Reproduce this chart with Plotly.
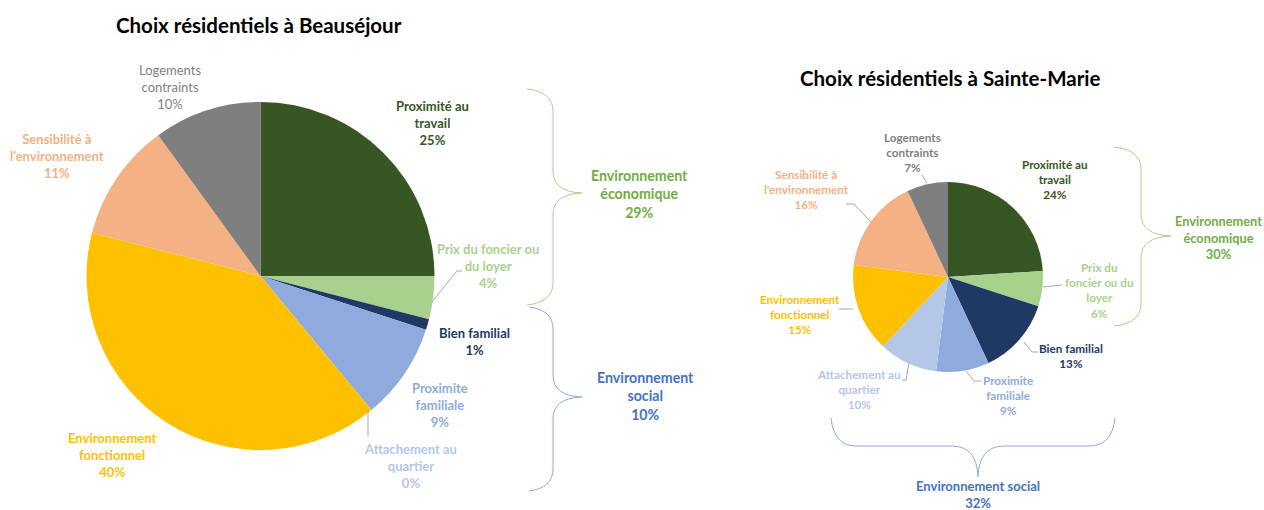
import plotly.graph_objects as go

# ---------------- data ----------------
categories = ["Proximité au travail", "Prix du foncier ou du loyer", "Bien familial",
              "Proximite familiale", "Attachement au quartier", "Environnement fonctionnel",
              "Sensibilité à l'environnement", "Logements contraints"]
beausejour_values = [25, 4, 1, 9, 0, 40, 11, 10]
sainte_marie_values = [24, 6, 13, 9, 10, 15, 16, 7]
slice_colors = ["#375623", "#A9D18E", "#1F3864", "#8FAADC", "#B4C7E7", "#FFC000", "#F4B183", "#7F7F7F"]
label_colors = ["#375623", "#A9D18E", "#1F3864", "#8FAADC", "#B4C7E7", "#FFC000", "#F4B183", "#7F7F7F"]

# wrapped label text for each chart
left_label_lines = [["Proximité au", "travail"], ["Prix du foncier ou", "du loyer"], ["Bien familial"],
                    ["Proximite", "familiale"], ["Attachement au", "quartier"], ["Environnement", "fonctionnel"],
                    ["Sensibilité à", "l'environnement"], ["Logements", "contraints"]]
right_label_lines = [["Proximité au", "travail"], ["Prix du", "foncier ou du", "loyer"], ["Bien familial"],
                     ["Proximite", "familiale"], ["Attachement au", "quartier"], ["Environnement", "fonctionnel"],
                     ["Sensibilité à", "l'environnement"], ["Logements", "contraints"]]

titles = ["Choix résidentiels à Beauséjour", "Choix résidentiels à Sainte-Marie"]
group_names_left = ["Environnement<br>économique", "Environnement<br>social"]
group_values_left = [29, 10]
group_names_right = ["Environnement<br>économique", "Environnement social"]
group_values_right = [30, 32]
group_colors = ["#70AD47", "#4472C4"]

# ---------------- layout helpers ----------------
W, H = 1264, 510
FONT = "Lato, 'DejaVu Sans', sans-serif"


def px(x):
    return x / W


def py(y):
    return 1 - y / H


def pie_domain(cx, cy, r):
    return dict(x=[px(cx - r), px(cx + r)], y=[py(cy + r), py(cy - r)])


fig = go.Figure()

fig.add_trace(go.Pie(labels=categories, values=beausejour_values, sort=False,
                     direction="clockwise", rotation=0, textinfo="none", hoverinfo="label+percent",
                     marker=dict(colors=slice_colors, line=dict(width=0)),
                     domain=pie_domain(260.5, 276, 174), showlegend=False))
fig.add_trace(go.Pie(labels=categories, values=sainte_marie_values, sort=False,
                     direction="clockwise", rotation=0, textinfo="none", hoverinfo="label+percent",
                     marker=dict(colors=slice_colors, line=dict(width=0)),
                     domain=pie_domain(948, 277, 95), showlegend=False))

annotations = []


def add_text(x, y, text, color, size, bold=True):
    t = "<b>%s</b>" % text if bold else text
    annotations.append(dict(x=px(x), y=py(y), xref="paper", yref="paper", text=t, showarrow=False,
                            xanchor="center", yanchor="middle", align="center",
                            font=dict(family=FONT, size=size, color=color)))


# titles
add_text(259, 25, titles[0], "#000000", 20.5)
add_text(950, 78, titles[1], "#000000", 20.5)

# left pie label positions (centre x, centre y of block) - styling only
left_pos = [(432, 123), (488, 266), (474.5, 341.5), (439.5, 405), (410.6, 466), (111.7, 455), (56.6, 156), (170, 87)]
left_bold = [True, True, True, True, True, True, True, False]
for i, cat in enumerate(categories):
    txt = "<br>".join(left_label_lines[i] + ["%d%%" % beausejour_values[i]])
    add_text(left_pos[i][0], left_pos[i][1], txt, label_colors[i], 13, left_bold[i])

right_pos = [(1055, 179), (1099.6, 289.5), (1071, 355.5), (1008, 395), (858.6, 389), (799.6, 313.5), (806.7, 188.5), (912, 152)]
for i, cat in enumerate(categories):
    txt = "<br>".join(right_label_lines[i] + ["%d%%" % sainte_marie_values[i]])
    add_text(right_pos[i][0], right_pos[i][1], txt, label_colors[i], 11.7, True)

# group labels
add_text(639, 194, "%s<br>%d%%" % (group_names_left[0], group_values_left[0]), group_colors[0], 14.2)
add_text(646, 396, "%s<br>%d%%" % (group_names_left[1], group_values_left[1]), group_colors[1], 14.2)
add_text(1218, 237, "%s<br>%d%%" % (group_names_right[0], group_values_right[0]), group_colors[0], 12.8)
add_text(978, 494.5, "%s<br>%d%%" % (group_names_right[1], group_values_right[1]), group_colors[1], 13)

shapes = []


def path(points_cmds, color, width=1):
    d = ""
    for cmd, pts in points_cmds:
        d += cmd + " " + " ".join("%.5f,%.5f" % (px(x), py(y)) for x, y in pts) + " "
    shapes.append(dict(type="path", path=d.strip(), xref="paper", yref="paper",
                       line=dict(color=color, width=width)))


def polyline(pts, color, width=1):
    cmds = [("M", [pts[0]])] + [("L", [p]) for p in pts[1:]]
    path(cmds, color, width)


def vbrace(x_end, x_mid, x_tip, y_top, y_tip, y_bot, color):
    c = 22
    path([("M", [(x_end, y_top)]),
          ("Q", [(x_mid, y_top + 3), (x_mid, y_top + c)]),
          ("L", [(x_mid, y_tip - c)]),
          ("Q", [(x_mid, y_tip - 1), (x_tip, y_tip)]),
          ("Q", [(x_mid, y_tip + 1), (x_mid, y_tip + c)]),
          ("L", [(x_mid, y_bot - c)]),
          ("Q", [(x_mid, y_bot - 3), (x_end, y_bot)])], color)


vbrace(527, 553, 582, 89, 193, 305, "#A9D18E")
vbrace(529, 553, 582, 307, 397, 491, "#8FAADC")
vbrace(1114, 1141, 1171, 147, 236, 326, "#A9D18E")

# bottom horizontal brace
yb, c = 446, 25
path([("M", [(831, 418)]),
      ("Q", [(834, yb), (831 + c, yb)]),
      ("L", [(978 - c, yb)]),
      ("Q", [(977, yb + 1), (978, 477)]),
      ("Q", [(979, yb + 1), (978 + c, yb)]),
      ("L", [(1114 - c, yb)]),
      ("Q", [(1112, yb), (1115, 418)])], "#8FAADC")

# leader lines
lead = "#A6A6A6"
polyline([(462, 271), (457, 271), (432, 302)], lead)
polyline([(368, 411), (368, 436)], lead)
polyline([(922, 175), (927, 183)], lead)
polyline([(846, 204), (854, 204), (871, 222)], lead)
polyline([(1043, 287), (1062, 285)], lead)
polyline([(839, 309), (853, 309)], lead)
polyline([(1024, 342), (1032, 352), (1038, 352)], lead)
polyline([(966, 371), (974, 381), (981, 381)], lead)
polyline([(909, 363), (906, 380), (902, 380)], lead)

fig.update_layout(width=W, height=H, margin=dict(l=0, r=0, t=0, b=0),
                  paper_bgcolor="white", plot_bgcolor="white",
                  annotations=annotations, shapes=shapes,
                  font=dict(family=FONT))

fig.write_html("out.html", config={"displayModeBar": False},
               post_script="document.body.style.margin='0px';document.body.style.overflow='hidden';")
